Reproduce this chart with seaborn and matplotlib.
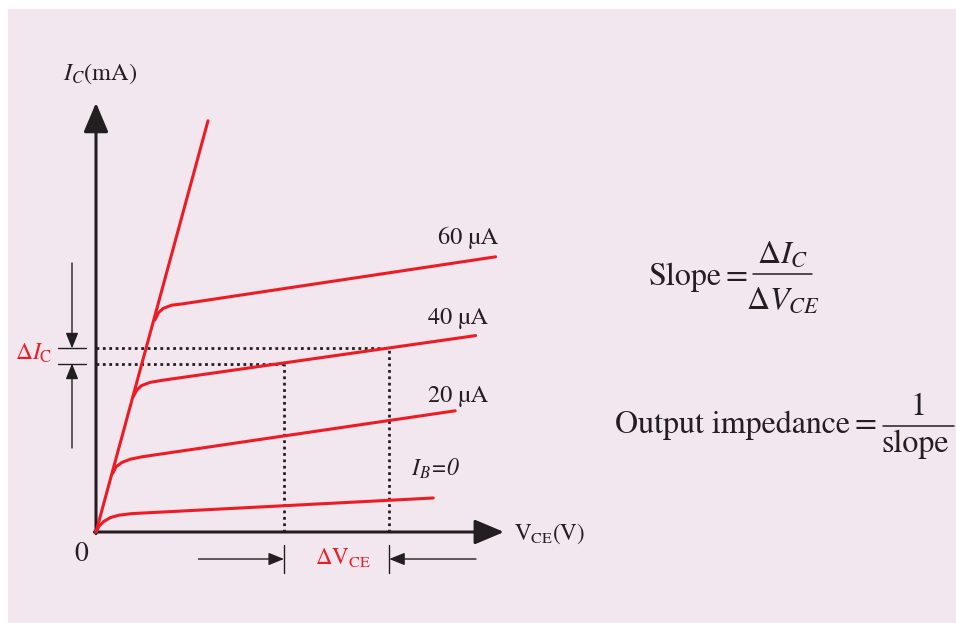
import numpy as np
import pandas as pd
import matplotlib
matplotlib.use("Agg")
import matplotlib.pyplot as plt
from matplotlib.patches import Rectangle
import seaborn as sns

# output characteristics of a CE transistor (V_CE in V, I_C in mA)
v_ib0 = [0.0, 0.08, 0.19, 0.36, 0.57, 0.90, 8.43]
i_ib0 = [0.0, 0.15, 0.26, 0.36, 0.42, 0.46, 0.85]
v_ib20 = [0.42, 0.50, 0.65, 0.86, 1.15, 8.98]
i_ib20 = [1.47, 1.63, 1.74, 1.82, 1.88, 3.03]
v_ib40 = [0.93, 1.02, 1.14, 1.35, 1.64, 9.49]
i_ib40 = [3.38, 3.55, 3.66, 3.74, 3.79, 4.91]
v_ib60 = [1.475, 1.56, 1.68, 1.89, 2.14, 9.99]
i_ib60 = [5.30, 5.48, 5.59, 5.67, 5.70, 6.88]
v_sat = [0.0, 2.8]
i_sat = [0.0, 10.28]

curve_names = ["I_B=0", "20 µA", "40 µA", "60 µA", "saturation"]

# operating points used for the slope construction
v_lo, v_hi = 4.7, 7.33
i_lo, i_hi = 4.21, 4.59

RED = "#ed1c24"
INK = "#231f20"
PINK = "#f2e6ef"

sns.set_style("white")
plt.rcParams["font.family"] = ["STIXGeneral", "DejaVu Serif"]
plt.rcParams["mathtext.fontset"] = "stix"

frames = []
for name, vv, ii in zip(curve_names,
                        [v_ib0, v_ib20, v_ib40, v_ib60, v_sat],
                        [i_ib0, i_ib20, i_ib40, i_ib60, i_sat]):
    frames.append(pd.DataFrame({"V": vv, "I": ii, "curve": name}))
df = pd.concat(frames, ignore_index=True)

fig = plt.figure(figsize=(9.56, 6.23), dpi=100)
fig.patches.append(Rectangle((8 / 956, 0), 948 / 956, 614 / 623,
                             transform=fig.transFigure, color=PINK, zorder=-5))
ax = fig.add_axes([0, 0, 1, 1])
ax.set_xlim(-2.4, 21.5)
ax.set_ylim(-2.275, 13.3)
ax.set_axis_off()

sns.lineplot(data=df, x="V", y="I", units="curve", estimator=None, sort=False,
             color=RED, linewidth=2.2, ax=ax, legend=False, zorder=4)

# axes with arrow heads
big = dict(arrowstyle="-|>,head_length=0.9,head_width=0.38", mutation_scale=20,
           lw=2.2, color=INK, shrinkA=0, shrinkB=0)
ax.annotate("", xy=(0, 10.73), xytext=(0, -0.04), arrowprops=big)
ax.annotate("", xy=(10.2, 0), xytext=(-0.04, 0), arrowprops=big)

# dotted construction lines
dot = dict(color=INK, lw=2.0, linestyle=(0, (1, 1.3)), zorder=3)
ax.plot([0, v_hi], [i_hi, i_hi], **dot)
ax.plot([0, v_lo], [i_lo, i_lo], **dot)
ax.plot([v_lo, v_lo], [0, i_lo], **dot)
ax.plot([v_hi, v_hi], [0, i_hi], **dot)

# delta I_C marker
small = dict(arrowstyle="-|>,head_length=0.47,head_width=0.19", mutation_scale=20,
             lw=1.0, color=INK, shrinkA=0, shrinkB=0)
ax.annotate("", xy=(-0.6, i_hi), xytext=(-0.6, 6.725), arrowprops=small)
ax.annotate("", xy=(-0.6, i_lo), xytext=(-0.6, 2.1), arrowprops=small)
ax.plot([-0.95, -0.25], [i_hi, i_hi], color=INK, lw=1.0)
ax.plot([-0.95, -0.25], [i_lo, i_lo], color=INK, lw=1.0)
ax.text(-2.02, 4.3, r"$\Delta I_{\mathrm{C}}$", color=RED, fontsize=17, va="baseline")

# delta V_CE marker
ax.annotate("", xy=(v_lo, -0.675), xytext=(2.56, -0.675), arrowprops=small)
ax.annotate("", xy=(v_hi, -0.675), xytext=(9.5, -0.675), arrowprops=small)
ax.plot([v_lo, v_lo], [-0.335, -1.025], color=INK, lw=1.0)
ax.plot([v_hi, v_hi], [-0.335, -1.025], color=INK, lw=1.0)
ax.text(5.47, -0.81, r"$\Delta\mathrm{V}_{\mathrm{CE}}$", color=RED, fontsize=16.5, va="baseline")

# axis labels
ax.text(0.1, 11.3, r"$I_C$(mA)", color=INK, fontsize=17.5, ha="center", va="baseline")
ax.text(10.45, -0.2, r"V$_{\mathrm{CE}}$(V)", color=INK, fontsize=16.5, va="baseline")
ax.text(-0.38, -0.725, "0", color=INK, fontsize=20, ha="center", va="baseline")

# curve labels
ax.text(8.56, 7.2, "60 µA", color=INK, fontsize=17.5, va="baseline")
ax.text(8.29, 5.2, "40 µA", color=INK, fontsize=17.5, va="baseline")
ax.text(8.29, 3.26, "20 µA", color=INK, fontsize=17.5, va="baseline")
ax.text(7.875, 1.4, r"$I_B$=0", color=INK, fontsize=17, va="baseline", style="italic")

# formulas on the right
ax.text(13.81, 6.175, "Slope", color=INK, fontsize=23, va="baseline")
ax.text(16.0, 6.175, "=", color=INK, fontsize=23, ha="center", va="baseline")
ax.plot([16.43, 17.89], [6.44, 6.44], color=INK, lw=1.1)
ax.text(17.16, 6.72, r"$\Delta I_C$", color=INK, fontsize=23, ha="center", va="baseline")
ax.text(17.16, 5.575, r"$\Delta V_{CE}$", color=INK, fontsize=23, ha="center", va="baseline")

ax.text(12.975, 2.4675, "Output impedance", color=INK, fontsize=23, va="baseline")
ax.text(19.225, 2.4675, "=", color=INK, fontsize=23, ha="center", va="baseline")
ax.plot([19.68, 21.45], [2.65, 2.65], color=INK, lw=1.1)
ax.text(20.56, 2.925, "1", color=INK, fontsize=23, ha="center", va="baseline")
ax.text(20.47, 2.0, "slope", color=INK, fontsize=23, ha="center", va="baseline")

fig.savefig("out.png", dpi=100)
